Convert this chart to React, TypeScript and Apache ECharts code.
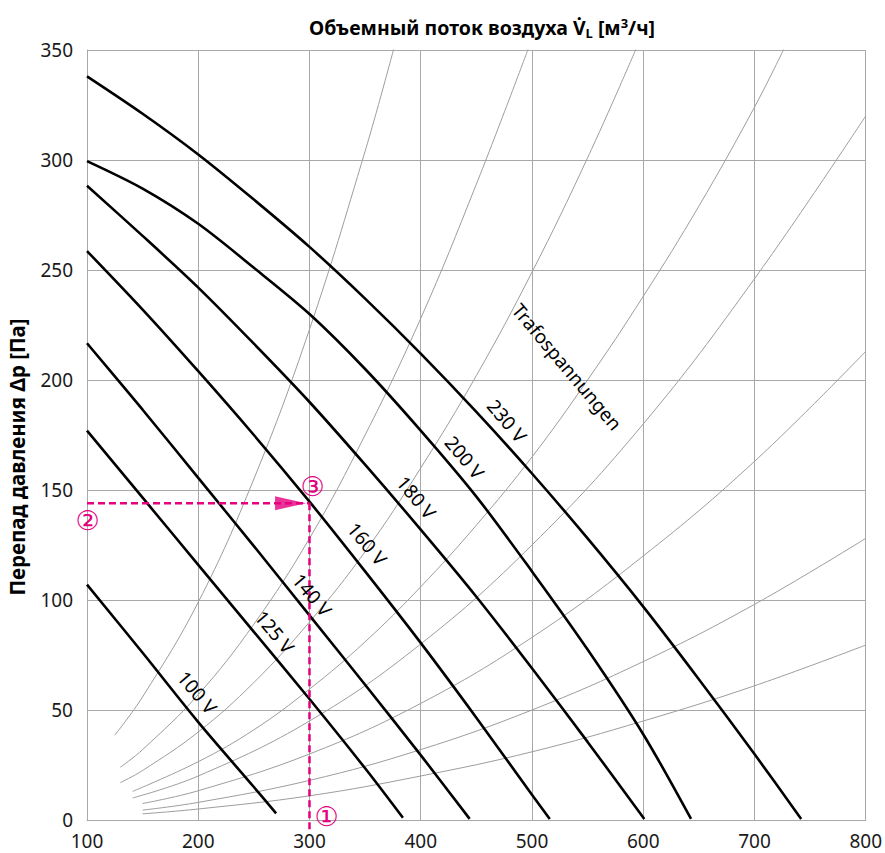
import React, { useEffect, useRef } from "react";
import * as echarts from "echarts";

// ---------- Data ----------
// Axis ticks
const xTicks = { min: 100, max: 800, step: 100 };
const yTicks = { min: 0, max: 350, step: 50 };

// Fan curves at different transformer voltages: [volume flow m3/h, pressure Pa]
const v100 = [[100, 107], [150, 76], [200, 44.5], [250, 15], [270, 3]];
const v125 = [[100, 177], [150, 146.5], [200, 116], [250, 85.5], [300, 55], [350, 23.5], [384, 1]];
const v140 = [[100, 216.7], [150, 186.5], [200, 155.5], [250, 124.5], [300, 93], [350, 61.5], [400, 29.5], [444, 0.5]];
const v160 = [[100, 258.6], [150, 232], [200, 204], [250, 175], [300, 144.7], [350, 113], [400, 80.5], [450, 46.5], [500, 11.5], [516, 0.5]];
const v180 = [[100, 288.3], [150, 265.5], [200, 242], [250, 216.5], [300, 190], [350, 161.5], [400, 132], [450, 101.5], [500, 69], [550, 35.5], [601, 0.5]];
const v200 = [[100, 299.5], [150, 287], [200, 271], [250, 251], [300, 230], [350, 205], [400, 177], [450, 147], [500, 113], [550, 77.5], [600, 39], [643, 0.5]];
const v230 = [[100, 338], [150, 321], [200, 302.5], [250, 282], [300, 260.5], [350, 237], [400, 212], [450, 185.5], [500, 157.5], [550, 128], [600, 97], [650, 64], [700, 30], [742, 0.5]];

// System (duct) curves, thin gray
const sys1 = [[125, 38.6], [150, 56], [200, 99], [250, 155], [300, 223], [350, 304], [376, 351]];
const sys2 = [[130, 24], [150, 32], [200, 57], [250, 89], [300, 128], [350, 175], [400, 228], [450, 289], [497, 351]];
const sys3 = [[130, 17], [150, 22.5], [200, 40], [250, 62.5], [300, 90], [350, 122], [400, 160], [450, 202], [500, 249], [550, 301], [594, 351]];
const sys4 = [[141, 13], [200, 26.5], [250, 41], [300, 59.5], [350, 81], [400, 106], [450, 134], [500, 165], [550, 200], [600, 238], [650, 279], [700, 324], [727, 351]];
const sys5 = [[141, 10], [200, 20], [300, 45], [400, 80], [500, 125], [600, 180], [700, 246], [800, 320]];
const sys6 = [[150, 7.5], [200, 13.3], [300, 30], [400, 53], [500, 83], [600, 120], [700, 163], [800, 213]];
const sys7 = [[150, 4.5], [200, 8], [300, 18], [400, 32], [500, 50], [600, 72], [700, 98], [800, 128]];
const sys8 = [[150, 2.8], [200, 5], [300, 11], [400, 20], [500, 31], [600, 45], [700, 61], [800, 79.5]];

// Reading example (dashed magenta)
const exampleFlow = 300;
const examplePressure = 144;
const exampleH = [[100, examplePressure], [exampleFlow, examplePressure]];
const exampleV = [[exampleFlow, examplePressure], [exampleFlow, -6]];
const arrowAt = [[283, examplePressure]];

// Text labels anchored at data coordinates
const curveLabels = [
  { text: "100 V", at: [199, 58] },
  { text: "125 V", at: [268.6, 85.5] },
  { text: "140 V", at: [302.3, 102.3] },
  { text: "160 V", at: [351.8, 125.5] },
  { text: "180 V", at: [396, 146.6] },
  { text: "200 V", at: [439.4, 164.8] },
  { text: "230 V", at: [477.5, 181.4] },
  { text: "Trafospannungen", at: [531.4, 206] },
];
const markers = [
  { text: "①", at: [315.5, 1.8] },
  { text: "②", at: [100.6, 136] },
  { text: "③", at: [302.8, 151.4] },
];

const FONT = "Noto Sans";
const MAGENTA = "#e4007f";
const GRID_GRAY = "#a8a8a8";

export default function App() {
  const ref = useRef<HTMLDivElement>(null);

  useEffect(() => {
    const chart = echarts.init(ref.current as HTMLDivElement, null, { renderer: "svg" });

    const sysSeries = [sys1, sys2, sys3, sys4, sys5, sys6, sys7, sys8].map((d, i) => ({
      name: "sys" + (i + 1),
      type: "line",
      data: d,
      smooth: 0.4,
      symbol: "none",
      silent: true,
      lineStyle: { color: "#9d9d9d", width: 1 },
      z: 2,
    }));
    const fanSeries = [v100, v125, v140, v160, v180, v200, v230].map((d, i) => ({
      name: ["100 V", "125 V", "140 V", "160 V", "180 V", "200 V", "230 V"][i],
      type: "line",
      data: d,
      smooth: 0.3,
      symbol: "none",
      silent: true,
      lineStyle: { color: "#000", width: 2.6 },
      z: 3,
    }));

    const option: any = {
      animation: false,
      backgroundColor: "#fff",
      textStyle: { fontFamily: FONT },
      title: {
        left: 304,
        top: 11,
        text: "{a|Объемный поток воздуха V̇}{s|L}{a| [м}{p|3}{a|/ч]}",
        textStyle: {
          rich: {
            a: { fontSize: 19.5, fontWeight: "bold", fontFamily: FONT, color: "#000", verticalAlign: "middle" },
            s: { fontSize: 13, fontWeight: "bold", fontFamily: FONT, color: "#000", verticalAlign: "middle", padding: [10, 0, 0, 0] },
            p: { fontSize: 13, fontWeight: "bold", fontFamily: FONT, color: "#000", verticalAlign: "middle", padding: [0, 0, 10, 0] },
          },
        },
      },
      grid: { left: 87, right: 19, top: 50, bottom: 33, containLabel: false },
      xAxis: {
        type: "value",
        min: xTicks.min,
        max: xTicks.max,
        interval: xTicks.step,
        axisLine: { show: true, lineStyle: { color: GRID_GRAY, width: 1 } },
        axisTick: { show: false },
        axisLabel: { color: "#1a1a1a", fontSize: 19, fontFamily: FONT, margin: 11 },
        splitLine: { show: true, lineStyle: { color: GRID_GRAY, width: 1 } },
      },
      yAxis: {
        type: "value",
        min: yTicks.min,
        max: yTicks.max,
        interval: yTicks.step,
        axisLine: { show: true, lineStyle: { color: GRID_GRAY, width: 1 } },
        axisTick: { show: false },
        axisLabel: { color: "#1a1a1a", fontSize: 19, fontFamily: FONT, margin: 14 },
        splitLine: { show: true, lineStyle: { color: GRID_GRAY, width: 1 } },
      },
      series: [
        ...sysSeries,
        ...fanSeries,
        {
          name: "exampleH",
          type: "line",
          data: exampleH,
          symbol: "none",
          silent: true,
          lineStyle: { color: MAGENTA, width: 2.5, type: [7, 4] },
          z: 4,
        },
        {
          name: "exampleV",
          type: "line",
          data: exampleV,
          symbol: "none",
          silent: true,
          clip: false,
          lineStyle: { color: MAGENTA, width: 2.5, type: [7, 4] },
          z: 4,
        },
        {
          name: "arrow",
          type: "scatter",
          data: arrowAt,
          symbol: "triangle",
          symbolSize: [14, 31],
          symbolRotate: -90,
          silent: true,
          itemStyle: { color: MAGENTA },
          z: 5,
        },
      ],
    };
    chart.setOption(option);

    const toPx = (pt: number[]) => chart.convertToPixel({ gridIndex: 0 }, pt) as number[];
    const graphics: any[] = [];
    curveLabels.forEach((l) => {
      const [x, y] = toPx(l.at);
      graphics.push({
        type: "text",
        x,
        y,
        rotation: (-50 * Math.PI) / 180,
        z: 10,
        style: { text: l.text, fontSize: 19, fontFamily: FONT, fill: "#000", align: "center", verticalAlign: "middle" },
      });
    });
    markers.forEach((m) => {
      const [x, y] = toPx(m.at);
      graphics.push({
        type: "text",
        x,
        y,
        z: 10,
        style: { text: m.text, fontSize: 27, lineHeight: 24, fontFamily: "DejaVu Sans", fill: MAGENTA, align: "center", verticalAlign: "middle" },
      });
    });
    // y-axis title
    graphics.push({
      type: "text",
      x: 17,
      y: 457,
      rotation: Math.PI / 2,
      z: 10,
      style: {
        text: "Перепад давления Δp [Па]",
        fontSize: 20.5,
        fontWeight: "bold",
        fontFamily: FONT,
        fill: "#000",
        align: "center",
        verticalAlign: "middle",
      },
    });
    chart.setOption({ graphic: graphics });

    return () => chart.dispose();
  }, []);

  return <div ref={ref} style={{ position: "absolute", left: 0, top: 0, width: 885, height: 853 }} />;
}
